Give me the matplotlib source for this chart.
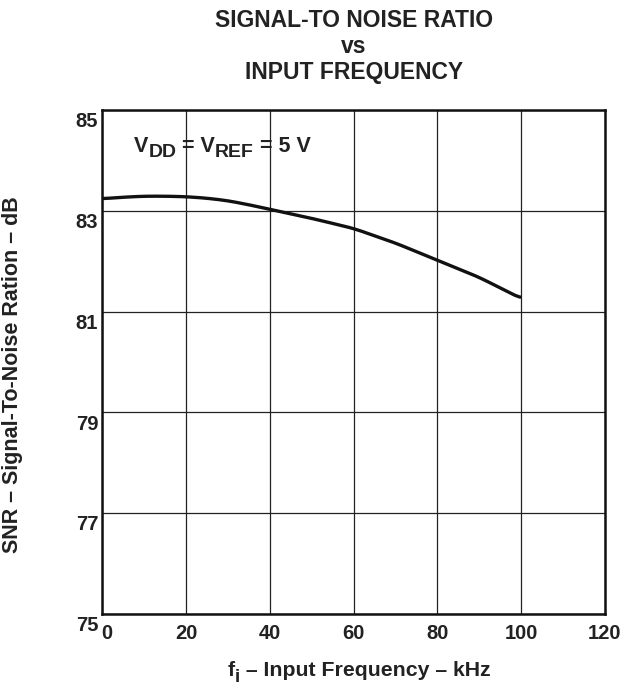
import numpy as np
import matplotlib
matplotlib.use('Agg')
import matplotlib.pyplot as plt
from matplotlib.transforms import ScaledTranslation, offset_copy

# values
freq_khz = [0, 5, 10, 15, 20, 25, 30, 35, 40, 50, 60, 70, 80, 90, 100]
snr_db = [83.24, 83.27, 83.29, 83.29, 83.28, 83.25, 83.20, 83.12, 83.03,
          82.85, 82.65, 82.36, 82.02, 81.68, 81.26]
x_ticks = [0, 20, 40, 60, 80, 100, 120]
y_ticks = [75, 77, 79, 81, 83, 85]

INK = '#222222'
plt.rcParams['font.family'] = ['Liberation Sans', 'DejaVu Sans']
plt.rcParams['font.weight'] = 'bold'
plt.rcParams['axes.labelweight'] = 'bold'

fig = plt.figure(figsize=(6.32, 6.85), dpi=100)
ax = fig.add_axes([0.162, 0.1036, 0.795, 0.7358])
renderer = fig.canvas.get_renderer()


def px(x, y):
    '''figure transform shifted to pixel (x, y) measured from the top left'''
    return fig.transFigure + ScaledTranslation(x / 100, (685 - y) / 100, fig.dpi_scale_trans)


def text_run(parts, transform, **kw):
    '''draw text pieces one after another: parts = [(text, size, dy_points)]'''
    tr = transform
    for txt, size, dy in parts:
        t = fig.text(0, 0, txt, fontsize=size,
                     transform=offset_copy(tr, fig, 0, dy, units='points'), **kw)
        w = t.get_window_extent(renderer).width
        tr = offset_copy(tr, fig, w * 72 / fig.dpi, 0, units='points')


# smooth the curve a little between the read points
xs = np.linspace(0, 100, 201)
ys = np.interp(xs, freq_khz, snr_db)
k = np.ones(9) / 9
ys_s = np.convolve(np.pad(ys, 4, mode='edge'), k, mode='valid')
ax.plot(xs, ys_s, color='#111111', lw=2.4, solid_capstyle='butt')

ax.set_xlim(0, 120)
ax.set_ylim(75, 85)
ax.set_xticks(x_ticks)
ax.set_yticks(y_ticks)
ax.grid(True, color=INK, lw=0.9)
ax.set_axisbelow(True)
for s in ax.spines.values():
    s.set_linewidth(1.8)
    s.set_color('#111111')
ax.tick_params(length=0, labelsize=14.5, colors=INK)
ax.tick_params(axis='x', pad=7)
ax.tick_params(axis='y', pad=3)

# datasheet style label offsets
for lab in ax.get_yticklabels():
    lab.set_transform(lab.get_transform() + ScaledTranslation(0, -7 / 72, fig.dpi_scale_trans))
xl0 = ax.get_xticklabels()[0]
xl0.set_transform(xl0.get_transform() + ScaledTranslation(3 / 72, 0, fig.dpi_scale_trans))

fig.text(13 / 632, 1 - 375 / 685, 'SNR – Signal-To-Noise Ration – dB', rotation=90,
         ha='center', va='center', fontsize=15.5, color=INK)

# x axis label with a near full size subscript
text_run([('f', 15.3, 0), ('i', 13.5, -4), (' – Input Frequency – kHz', 15.3, 0)],
         px(228, 676), color=INK, va='baseline')

text_run([('V', 15.5, 0), ('DD', 14, -3.8), (' = V', 15.5, 0), ('REF', 14, -3.8),
          (' = 5 V', 15.5, 0)],
         px(134, 152), color=INK, va='baseline')

fig.text(0.56, 0.97, 'SIGNAL-TO NOISE RATIO', ha='center', va='center',
         fontsize=16.5, color=INK)
fig.text(0.56, 0.932, 'vs', ha='center', va='center', fontsize=16.5, color=INK)
fig.text(0.56, 0.894, 'INPUT FREQUENCY', ha='center', va='center',
         fontsize=16.5, color=INK)

fig.savefig('out.png', dpi=100)
